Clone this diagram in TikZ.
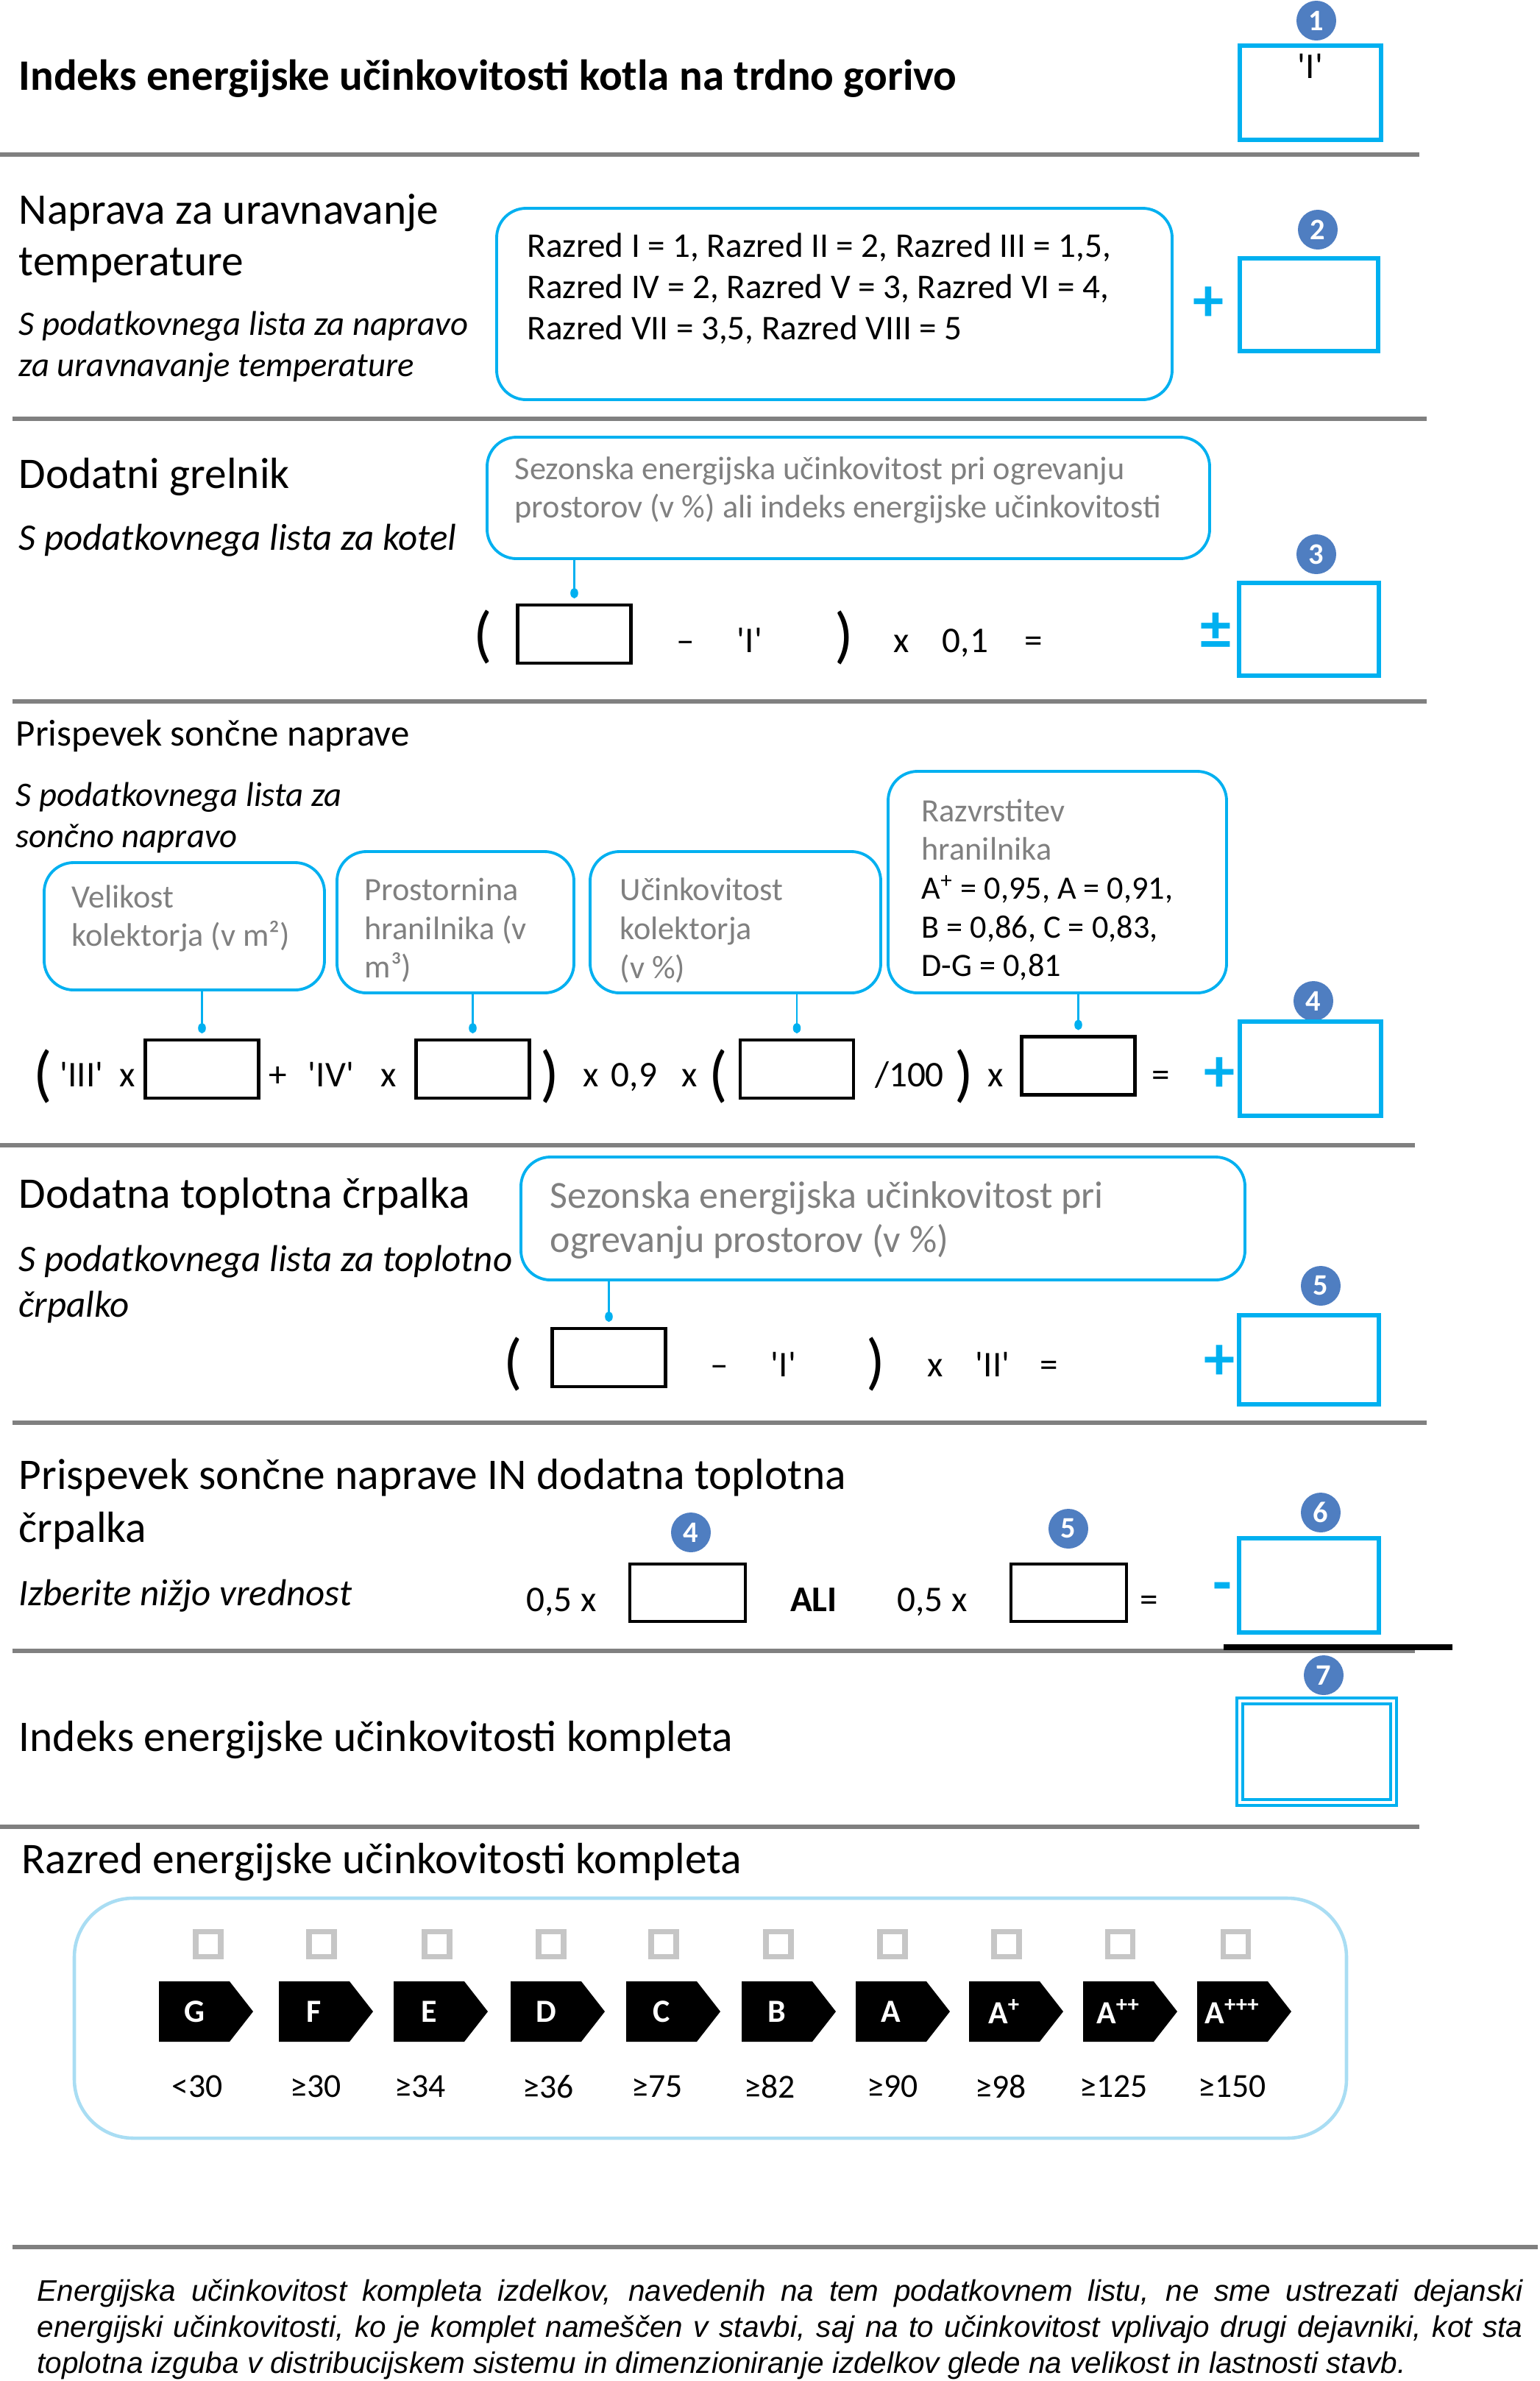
\documentclass[tikz,border=0pt]{standalone}
\usepackage{fontspec}
\setmainfont{Carlito}
\newfontfamily\notefont{Liberation Sans}
\usepackage{tikz}
\usetikzlibrary{arrows.meta, positioning, shapes.symbols}

\definecolor{boxblue}{HTML}{00B0F0}
\definecolor{badgeblue}{HTML}{4F7EC1}
\definecolor{callgray}{HTML}{808080}
\definecolor{frameblue}{HTML}{A9DDF3}
\newcommand{\qt}[1]{\textquotesingle#1\textquotesingle}

\begin{document}
\begin{tikzpicture}[
  hdr/.style={anchor=west, align=left, inner sep=0pt, font=\fontsize{16.9}{20}\selectfont},
  ttl/.style={anchor=west, inner sep=0pt, font=\fontsize{16.8}{18}\selectfont\bfseries},
  sub/.style={anchor=west, align=left, inner sep=0pt, font=\fontsize{14.5}{16}\selectfont\itshape},
  res/.style={draw=boxblue, line width=1.6pt, minimum width=1.9cm, minimum height=1.26cm, inner sep=0pt},
  badge/.style={circle, fill=badgeblue, text=white, minimum size=0.54cm, inner sep=0pt, font=\fontsize{11.5}{11.5}\selectfont\bfseries},
  call/.style={draw=boxblue, line width=1.1pt, rounded corners=0.4cm, inner sep=0pt},
  calltxt/.style={anchor=west, align=left, inner sep=0pt, text=callgray, font=\fontsize{12.6}{15}\selectfont},
  inbox/.style={draw, line width=1.2pt, minimum width=1.54cm, minimum height=0.79cm, inner sep=0pt},
  fml/.style={inner sep=0pt, text height=1.6ex, text depth=0.2ex, font=\fontsize{14}{16}\selectfont},
  paren/.style={inner sep=0pt, font=\fontsize{24}{24}\selectfont},
  sign/.style={inner sep=0pt, text=boxblue, font=\fontsize{24}{24}\selectfont\bfseries},
  link/.style={draw=boxblue, line width=0.6pt, -{Circle[length=4pt, width=3pt]}, shorten >=2pt},
  sepline/.style={draw=gray, line width=1.7pt},
  chk/.style={draw=gray!45, line width=2pt, minimum size=0.34cm, inner sep=0pt},
  cls/.style={signal, signal to=east, signal pointer angle=104, fill=black, text=white, minimum width=1.28cm, minimum height=0.82cm, inner sep=0pt, font=\fontsize{12.5}{12.5}\selectfont\bfseries},
  thr/.style={inner sep=0pt, font=\fontsize{13}{13}\selectfont}
]
\useasboundingbox (0,0) rectangle (20.92,-32.35);

% kotel
\node[ttl] (t1) at (0.25,-1.07) {Indeks energijske učinkovitosti kotla na trdno gorivo};
\node[badge] (b1) at (17.89,-0.28) {1};
\node[res, minimum width=1.92cm, minimum height=1.28cm, label={[fml, anchor=north, inner sep=0.2cm]north:\qt{I}}] (r1) at (17.81,-1.26) {};
\draw[sepline] (0,-2.10) -- (19.29,-2.10);

% naprava za uravnavanje temperature
\node[hdr] (h2) at (0.25,-3.24) {Naprava za uravnavanje\\temperature};
\node[sub, font=\fontsize{13.3}{15.9}\selectfont\itshape] (s2) at (0.25,-4.71) {S podatkovnega lista za napravo\\za uravnavanje temperature};
\node[call, minimum width=9.18cm, minimum height=2.60cm] (c2) at (11.34,-4.13) {};
\node[calltxt, text=black, font=\fontsize{13.4}{15.9}\selectfont] (c2t) at (7.16,-3.92) {Razred I = 1, Razred II = 2, Razred III = 1,5,\\Razred IV = 2, Razred V = 3, Razred VI = 4,\\Razred VII = 3,5, Razred VIII = 5};
\node[sign] (plus2) at (16.42,-4.13) {+};
\node[badge] (b2) at (17.91,-3.12) {2};
\node[res, minimum width=1.88cm] (r2) at (17.79,-4.14) {};
\draw[sepline] (0.17,-5.69) -- (19.39,-5.69);

% dodatni grelnik
\node[hdr] (h3) at (0.25,-6.48) {Dodatni grelnik};
\node[sub] (s3) at (0.25,-7.34) {S podatkovnega lista za kotel};
\node[call, minimum width=9.82cm, minimum height=1.65cm] (c3) at (11.53,-6.765) {};
\node[calltxt] (c3t) at (6.99,-6.66) {Sezonska energijska učinkovitost pri ogrevanju\\prostorov (v \%) ali indeks energijske učinkovitosti};
\node[inbox] (in3) at (7.805,-8.615) {};
\draw[link] (c3.south -| in3.north) -- (in3.north);
\node[paren] (p3a) at (6.56,-8.66) {(};
\node[fml] (m3) at (9.32,-8.75) {–};
\node[fml] (i3) at (10.19,-8.75) {\qt{I}};
\node[paren] (p3b) at (11.47,-8.66) {)};
\node[fml] (x3) at (12.25,-8.75) {x};
\node[fml] (k3) at (13.12,-8.75) {0,1};
\node[fml] (e3) at (14.05,-8.75) {=};
\node[sign] (pm3) at (16.52,-8.58) {±};
\node[badge] (b3) at (17.89,-7.53) {3};
\node[res] (r3) at (17.79,-8.55) {};
\draw[sepline] (0.17,-9.53) -- (19.39,-9.53);

% soncna naprava
\node[hdr, font=\fontsize{14.5}{17}\selectfont] (h4) at (0.21,-10.00) {Prispevek sončne naprave};
\node[sub, font=\fontsize{13.3}{15.9}\selectfont\itshape] (s4) at (0.21,-11.11) {S podatkovnega lista za\\sončno napravo};
\node[call, minimum width=3.81cm, minimum height=1.73cm] (c4a) at (2.505,-12.585) {};
\node[calltxt] (c4at) at (0.97,-12.48) {Velikost\\kolektorja (v m²)};
\node[call, minimum width=3.22cm, minimum height=1.92cm] (c4b) at (6.19,-12.53) {};
\node[calltxt] (c4bt) at (4.95,-12.64) {Prostornina\\hranilnika (v\\m³)};
\node[call, minimum width=3.95cm, minimum height=1.92cm] (c4c) at (9.995,-12.53) {};
\node[calltxt] (c4ct) at (8.42,-12.64) {Učinkovitost\\kolektorja\\(v \%)};
\node[call, minimum width=4.60cm, minimum height=3.01cm] (c4d) at (14.37,-11.985) {};
\node[calltxt] (c4dt) at (12.52,-12.09) {Razvrstitev\\hranilnika\\\textcolor{black}{A\textsuperscript{+} = 0,95, A = 0,91,}\\\textcolor{black}{B = 0,86, C = 0,83,}\\\textcolor{black}{D-G = 0,81}};
\node[paren] (p4a) at (0.58,-14.62) {(};
\node[fml] (q4a) at (1.11,-14.65) {\qt{III}};
\node[fml] (x4a) at (1.73,-14.65) {x};
\node[inbox] (in4a) at (2.745,-14.525) {};
\node[fml] (pl4) at (3.78,-14.65) {+};
\node[fml] (q4b) at (4.50,-14.65) {\qt{IV}};
\node[fml] (x4b) at (5.28,-14.65) {x};
\node[inbox] (in4b) at (6.425,-14.525) {};
\node[paren] (p4b) at (7.47,-14.62) {)};
\node[fml] (x4c) at (8.03,-14.65) {x};
\node[fml] (k4) at (8.62,-14.65) {0,9};
\node[fml] (x4d) at (9.37,-14.65) {x};
\node[paren] (p4c) at (9.76,-14.62) {(};
\node[inbox] (in4c) at (10.83,-14.525) {};
\node[fml] (d4) at (12.36,-14.65) {/100};
\node[paren] (p4d) at (13.10,-14.62) {)};
\node[fml] (x4e) at (13.53,-14.65) {x};
\node[inbox] (in4d) at (14.655,-14.48) {};
\node[fml] (e4) at (15.78,-14.65) {=};
\node[sign] (plus4) at (16.57,-14.60) {+};
\node[badge] (b4) at (17.85,-13.60) {4};
\node[res, minimum width=1.92cm, minimum height=1.28cm] (r4) at (17.81,-14.52) {};
\draw[link] (c4a.south -| in4a.north) -- (in4a.north);
\draw[link] (c4b.south -| in4b.north) -- (in4b.north);
\draw[link] (c4c.south -| in4c.north) -- (in4c.north);
\draw[link] (c4d.south -| in4d.north) -- (in4d.north);
\draw[sepline] (0,-15.56) -- (19.23,-15.56);

% toplotna crpalka
\node[hdr] (h5) at (0.25,-16.26) {Dodatna toplotna črpalka};
\node[sub, font=\fontsize{14.5}{17.6}\selectfont\itshape] (s5) at (0.25,-17.45) {S podatkovnega lista za toplotno\\črpalko};
\node[call, minimum width=9.84cm, minimum height=1.67cm] (c5) at (12.00,-16.555) {};
\node[calltxt, font=\fontsize{14.8}{17}\selectfont] (c5t) at (7.47,-16.58) {Sezonska energijska učinkovitost pri\\ogrevanju prostorov (v \%)};
\node[inbox] (in5) at (8.275,-18.445) {};
\draw[link] (c5.south -| in5.north) -- (in5.north);
\node[paren] (p5a) at (6.97,-18.53) {(};
\node[fml] (m5) at (9.78,-18.59) {–};
\node[fml] (i5) at (10.65,-18.59) {\qt{I}};
\node[paren] (p5b) at (11.90,-18.53) {)};
\node[fml] (x5) at (12.71,-18.59) {x};
\node[fml] (ii5) at (13.49,-18.59) {\qt{II}};
\node[fml] (e5) at (14.26,-18.59) {=};
\node[sign] (plus5) at (16.57,-18.51) {+};
\node[badge] (b5) at (17.95,-17.47) {5};
\node[res, minimum height=1.21cm] (r5) at (17.79,-18.475) {};
\draw[sepline] (0.17,-19.33) -- (19.39,-19.33);

% nizja vrednost
\node[hdr, font=\fontsize{16.9}{20.5}\selectfont] (h6) at (0.25,-20.44) {Prispevek sončne naprave IN dodatna toplotna\\črpalka};
\node[sub] (s6) at (0.25,-21.68) {Izberite nižjo vrednost};
\node[fml] (k6a) at (7.63,-21.78) {0,5 x};
\node[inbox, minimum width=1.57cm, minimum height=0.78cm] (in6a) at (9.345,-21.64) {};
\node[badge] (b6a) at (9.39,-20.82) {4};
\node[fml, font=\fontsize{14}{16}\selectfont\bfseries] (ali) at (11.06,-21.78) {ALI};
\node[fml] (k6b) at (12.67,-21.78) {0,5 x};
\node[inbox, minimum width=1.57cm, minimum height=0.78cm] (in6b) at (14.525,-21.64) {};
\node[badge] (b6b) at (14.52,-20.77) {5};
\node[fml] (e6) at (15.62,-21.78) {=};
\node[sign] (minus6) at (16.61,-21.64) {-};
\node[badge] (b6) at (17.95,-20.55) {6};
\node[res, minimum height=1.28cm] (r6) at (17.79,-21.54) {};
\draw[sepline] (0.17,-22.43) -- (19.23,-22.43);
\draw[line width=2.3pt] (16.63,-22.38) -- (19.74,-22.38);

% indeks kompleta
\node[hdr] (h7) at (0.25,-23.64) {Indeks energijske učinkovitosti kompleta};
\node[res, double=white, double distance=1.4pt, line width=1pt, minimum width=2.09cm, minimum height=1.38cm] (r7) at (17.895,-23.80) {};
\node[badge] (b7) at (17.99,-22.76) {7};
\draw[sepline] (0,-24.82) -- (19.29,-24.82);

% razred kompleta
\node[hdr] (h8) at (0.29,-25.30) {Razred energijske učinkovitosti kompleta};
\node[draw=frameblue, line width=1.3pt, rounded corners=0.8cm, minimum width=17.29cm, minimum height=3.26cm] (frame) at (9.655,-27.42) {};
\node[chk] (k1) at (2.83,-26.41) {};
\node[chk] (k2) at (4.37,-26.41) {};
\node[chk] (k3) at (5.94,-26.41) {};
\node[chk] (k4) at (7.49,-26.41) {};
\node[chk] (k5) at (9.02,-26.41) {};
\node[chk] (k6) at (10.58,-26.41) {};
\node[chk] (k7) at (12.13,-26.41) {};
\node[chk] (k8) at (13.68,-26.41) {};
\node[chk] (k9) at (15.22,-26.41) {};
\node[chk] (k10) at (16.79,-26.41) {};
\node[cls] (g) at (2.64,-27.33) {G};
\node[cls] (f) at (4.27,-27.33) {F};
\node[cls] (e) at (5.83,-27.33) {E};
\node[cls] (d) at (7.42,-27.33) {D};
\node[cls] (c) at (8.99,-27.33) {C};
\node[cls] (b) at (10.56,-27.33) {B};
\node[cls] (a) at (12.11,-27.33) {A};
\node[cls] (ap) at (13.65,-27.33) {A\textsuperscript{+}};
\node[cls] (app) at (15.20,-27.33) {A\textsuperscript{++}};
\node[cls] (appp) at (16.75,-27.33) {A\textsuperscript{+++}};
\node[thr] (v1) at (2.68,-28.35) {<30};
\node[thr] (v2) at (4.29,-28.35) {≥30};
\node[thr] (v3) at (5.71,-28.35) {≥34};
\node[thr] (v4) at (7.45,-28.35) {≥36};
\node[thr] (v5) at (8.93,-28.35) {≥75};
\node[thr] (v6) at (10.46,-28.35) {≥82};
\node[thr] (v7) at (12.13,-28.35) {≥90};
\node[thr] (v8) at (13.60,-28.35) {≥98};
\node[thr] (v9) at (15.14,-28.35) {≥125};
\node[thr] (v10) at (16.75,-28.35) {≥150};
\draw[sepline] (0.17,-30.53) -- (20.90,-30.53);

% opomba
\node[anchor=west, inner sep=0pt, text width=20.19cm, align=justify, font=\notefont\itshape\fontsize{11.5}{14}\selectfont] (note) at (0.50,-31.65) {Energijska učinkovitost kompleta izdelkov, navedenih na tem podatkovnem listu, ne sme ustrezati dejanski\linebreak energijski učinkovitosti, ko je komplet nameščen v stavbi, saj na to učinkovitost vplivajo drugi dejavniki, kot sta\linebreak toplotna izguba v distribucijskem sistemu in dimenzioniranje izdelkov glede na velikost in lastnosti stavb.};

\end{tikzpicture}
\end{document}
